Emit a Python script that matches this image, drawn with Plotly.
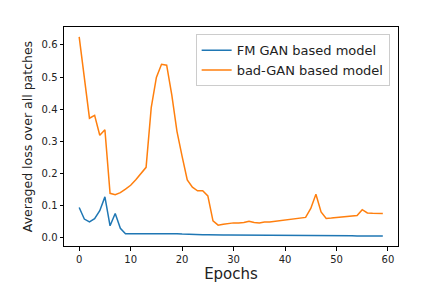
import plotly.graph_objects as go

epochs = list(range(60))

fm_gan = [0.094, 0.058, 0.049, 0.059, 0.084, 0.127, 0.037, 0.075, 0.029, 0.012,
          0.012, 0.012, 0.012, 0.013, 0.013, 0.014, 0.014, 0.013, 0.013, 0.012,
          0.011, 0.010, 0.010, 0.009, 0.009, 0.009, 0.008, 0.008, 0.008, 0.008,
          0.008, 0.008, 0.008, 0.007, 0.007, 0.007, 0.007, 0.007, 0.007, 0.007,
          0.007, 0.007, 0.006, 0.006, 0.006, 0.006, 0.006, 0.006, 0.006, 0.006,
          0.006, 0.006, 0.006, 0.006, 0.005, 0.005, 0.005, 0.005, 0.005, 0.005]

bad_gan = [0.625, 0.50, 0.372, 0.381, 0.319, 0.336, 0.138, 0.134, 0.140, 0.151,
           0.163, 0.180, 0.199, 0.219, 0.405, 0.499, 0.540, 0.537, 0.444, 0.331,
           0.253, 0.180, 0.157, 0.146, 0.146, 0.130, 0.052, 0.039, 0.042, 0.045,
           0.046, 0.046, 0.047, 0.051, 0.047, 0.046, 0.049, 0.049, 0.051, 0.054,
           0.055, 0.057, 0.059, 0.061, 0.063, 0.091, 0.135, 0.080, 0.060, 0.061,
           0.063, 0.065, 0.066, 0.067, 0.069, 0.087, 0.077, 0.076, 0.076, 0.075]

series_names = ["FM GAN based model", "bad-GAN based model"]
x_ticks = [0, 10, 20, 30, 40, 50, 60]
y_ticks = [0.0, 0.1, 0.2, 0.3, 0.4, 0.5, 0.6]

fig = go.Figure()
fig.add_trace(go.Scatter(x=epochs, y=fm_gan, mode="lines", name=series_names[0],
                         line=dict(color="#1f77b4", width=1.5)))
fig.add_trace(go.Scatter(x=epochs, y=bad_gan, mode="lines", name=series_names[1],
                         line=dict(color="#ff7f0e", width=1.5)))

xmin, xmax = min(epochs), max(epochs)
xpad = 0.05 * (xmax - xmin)
allv = fm_gan + bad_gan
ymin, ymax = min(allv), max(allv)
ypad = 0.05 * (ymax - ymin)

axis_common = dict(showline=True, linecolor="black", linewidth=1, mirror=True,
                   ticks="outside", ticklen=3.5, tickwidth=1, tickcolor="black",
                   showgrid=False, zeroline=False, automargin=False,
                   tickfont=dict(family="DejaVu Sans", size=10, color="#222"))

fig.update_xaxes(range=[xmin - xpad, xmax + xpad], tickvals=x_ticks,
                 title=dict(text="Epochs", font=dict(family="DejaVu Sans", size=15, color="#222"),
                            standoff=4),
                 **axis_common)
fig.update_yaxes(range=[ymin - ypad, ymax + ypad], tickvals=y_ticks,
                 ticktext=[f"{v:.1f}" for v in y_ticks],
                 title=dict(text="Averaged loss over all patches",
                            font=dict(family="DejaVu Sans", size=12.5, color="#222"),
                            standoff=6),
                 **axis_common)

# page body has an 8px margin, so the figure is drawn 8px smaller and offset
fig.update_layout(
    width=427, height=285,
    margin=dict(l=55.5, r=36.6, t=19, b=47.3),
    paper_bgcolor="white", plot_bgcolor="white",
    font=dict(family="DejaVu Sans", color="#222"),
    legend=dict(x=0.975, y=0.967, xanchor="right", yanchor="top",
                bgcolor="rgba(255,255,255,0.8)", bordercolor="#cccccc", borderwidth=1,
                font=dict(family="DejaVu Sans", size=13, color="#222"),
                tracegroupgap=0, itemwidth=30),
    showlegend=True,
)

fig.write_html("out.html")
